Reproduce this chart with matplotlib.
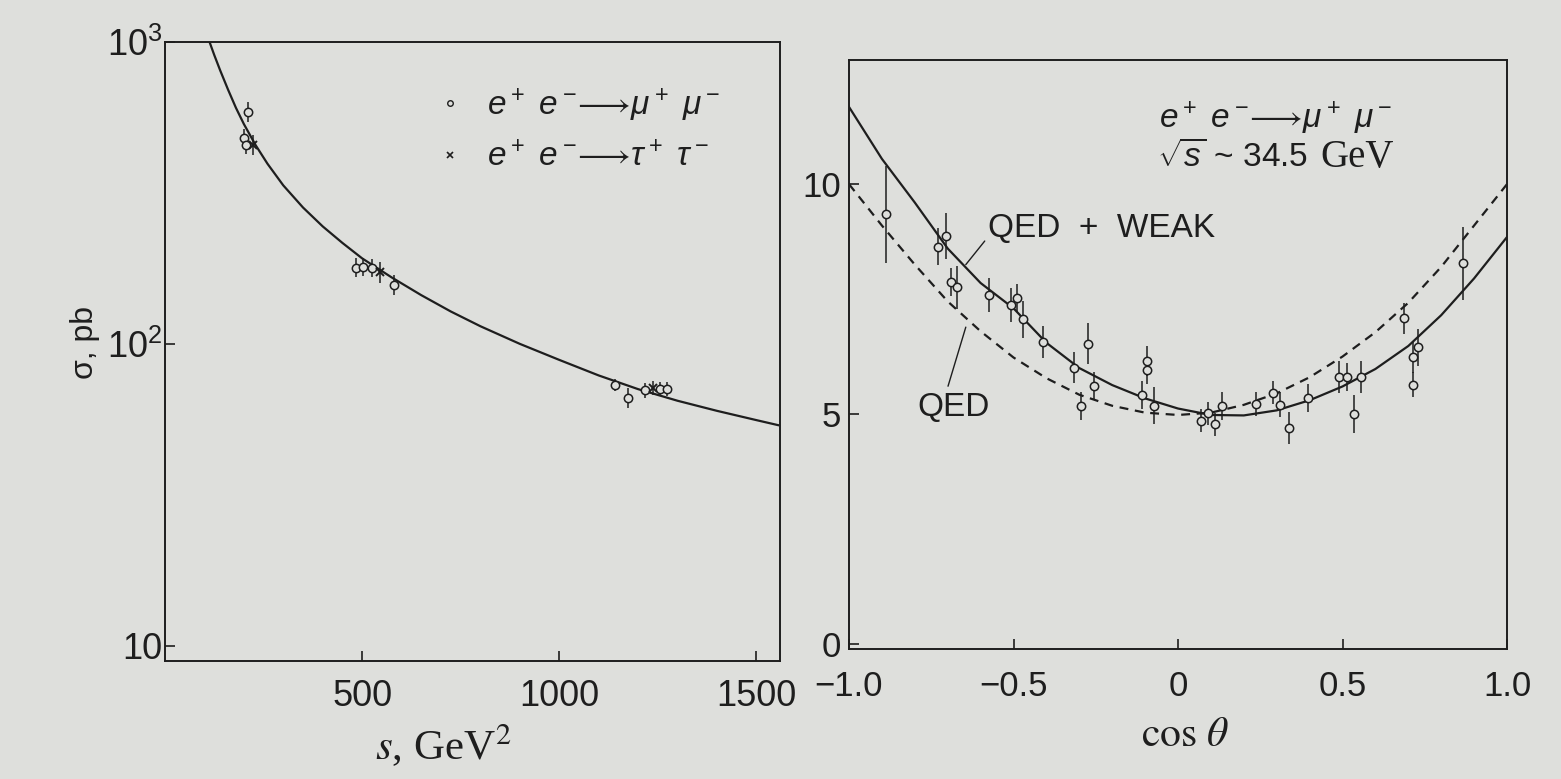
import matplotlib
matplotlib.use('Agg')
import matplotlib.pyplot as plt
from matplotlib.lines import Line2D
import numpy as np

matplotlib.rcParams['font.family'] = 'Liberation Sans'
matplotlib.rcParams['mathtext.fontset'] = 'custom'
matplotlib.rcParams['mathtext.rm'] = 'Liberation Sans'
matplotlib.rcParams['mathtext.it'] = 'Liberation Sans:italic'
matplotlib.rcParams['mathtext.bf'] = 'Liberation Sans:bold'
matplotlib.rcParams['axes.unicode_minus'] = True

# ---- left panel: total cross section vs s ----
# theory curve
s_curve = [113, 125, 140, 160, 180, 200, 230, 260, 300, 350, 400, 450, 500, 575,
           650, 725, 800, 900, 1000, 1100, 1200, 1300, 1400, 1500, 1555]
sig_curve = [1000, 905, 805, 695, 605, 535, 455, 395, 335, 283, 245, 216, 192, 166,
             145, 128, 114.4, 100, 88.5, 78.6, 70.8, 64.8, 60, 55.9, 53.8]

# e+e- -> mu+mu- (open circles)
s_mu = [210, 200, 205, 484, 502, 525, 580, 1142, 1174, 1218, 1255, 1273]
sig_mu = [588, 480, 455, 179, 180, 179, 157, 73.2, 66.4, 70.4, 71, 71]
err_mu = [45, 35, 30, 13, 12, 12, 12, 3.5, 5, 4, 4, 4]

# e+e- -> tau+tau- (crosses)
s_tau = [224, 545, 1238]
sig_tau = [456, 173, 71.5]
err_tau = [35, 14, 4]

left_yticks = [10, 100, 1000]
left_yticklabels = ['10', r'$10^2$', r'$10^3$']
left_xticks = [500, 1000, 1500]

# ---- right panel: angular distribution ----
cos_grid = [-1.0, -0.9, -0.8, -0.7, -0.6, -0.5, -0.4, -0.3, -0.2, -0.1, 0.0,
            0.1, 0.2, 0.3, 0.4, 0.5, 0.6, 0.7, 0.8, 0.9, 1.0]
qed_weak = [11.68, 10.55, 9.6, 8.6, 7.85, 7.3, 6.55, 6.0, 5.63, 5.34, 5.12,
            4.98, 4.97, 5.08, 5.3, 5.6, 5.98, 6.48, 7.15, 7.95, 8.85]
qed_only = [10.0, 9.1, 8.25, 7.45, 6.8, 6.23, 5.78, 5.42, 5.18, 5.03, 4.98,
            5.03, 5.2, 5.45, 5.8, 6.25, 6.78, 7.42, 8.2, 9.1, 10.0]

cos_pts = [-0.888, -0.73, -0.706, -0.69, -0.673, -0.573, -0.509, -0.49, -0.47,
           -0.41, -0.315, -0.275, -0.294, -0.255, -0.094, -0.094, -0.11, -0.073,
           0.069, 0.09, 0.112, 0.133, 0.236, 0.29, 0.309, 0.336, 0.394,
           0.49, 0.515, 0.556, 0.536, 0.688, 0.715, 0.73, 0.715, 0.865]
dsig_pts = [9.34, 8.64, 8.88, 7.87, 7.76, 7.59, 7.37, 7.52, 7.06,
            6.56, 6.01, 6.53, 5.18, 5.61, 6.15, 5.95, 5.42, 5.18,
            4.85, 5.02, 4.78, 5.18, 5.22, 5.46, 5.2, 4.7, 5.35,
            5.81, 5.81, 5.8, 5.0, 7.08, 6.23, 6.45, 5.64, 8.28]
dsig_err = [1.05, 0.4, 0.5, 0.3, 0.47, 0.37, 0.37, 0.3, 0.4,
            0.35, 0.33, 0.45, 0.3, 0.3, 0.33, 0.3, 0.3, 0.4,
            0.25, 0.25, 0.25, 0.3, 0.27, 0.25, 0.27, 0.35, 0.3,
            0.35, 0.3, 0.35, 0.42, 0.33, 0.33, 0.4, 0.27, 0.79]

right_xticks = [-1.0, -0.5, 0.0, 0.5, 1.0]
right_xticklabels = ['\u22121.0', '\u22120.5', '0', '0.5', '1.0']
right_yticks = [0, 5, 10]

BG = '#dedfdc'
INK = '#1e1e1e'

fig = plt.figure(figsize=(15.61, 7.79), dpi=100, facecolor=BG)
axL = fig.add_axes([165/1561, (779-661)/779, (780-165)/1561, (661-42)/779])
axR = fig.add_axes([849/1561, (779-649)/779, (1507-849)/1561, (649-60)/779])

for ax in [axL, axR]:
    ax.set_facecolor(BG)
    for sp in ax.spines.values():
        sp.set_linewidth(1.4)
        sp.set_color(INK)

# left
axL.plot(s_curve, sig_curve, color=INK, lw=1.6, zorder=2)
axL.errorbar(s_mu, sig_mu, yerr=err_mu, fmt='o', ms=6, mfc=BG, mec=INK, mew=1.1,
             ecolor=INK, elinewidth=1.1, capsize=0, zorder=3)
axL.errorbar(s_tau, sig_tau, yerr=err_tau, fmt='x', ms=5.5, mec=INK, mew=1.4,
             ecolor=INK, elinewidth=1.1, capsize=0, zorder=3)
axL.set_yscale('log')
axL.set_xlim(0, 1560)
axL.set_ylim(8.9, 1000)
axL.yaxis.set_minor_locator(matplotlib.ticker.NullLocator())
axL.set_yticks(left_yticks)
axL.set_yticklabels(left_yticklabels)
axL.set_xticks(left_xticks)
axL.tick_params(axis='both', direction='in', length=7, width=1.2, color=INK,
                labelsize=26, labelcolor=INK)
axL.tick_params(axis='x', pad=13)
axL.tick_params(axis='y', pad=2)

h_mu = Line2D([], [], marker='o', ls='none', ms=4, mfc=BG, mec=INK, mew=1.0)
h_tau = Line2D([], [], marker='x', ls='none', ms=4, mec=INK, mew=1.2)
axL.legend([h_mu, h_tau],
           [r'$e^+\ e^-\!\!\longrightarrow\!\mu^+\ \mu^-$',
            r'$e^+\ e^-\!\!\longrightarrow\!\tau^+\ \tau^-$'],
           loc='upper left', bbox_to_anchor=(0.42, 0.955), frameon=False,
           fontsize=24, handlelength=0.6, handletextpad=0.8, labelspacing=0.55,
           borderpad=0, labelcolor=INK)

axL.set_ylabel('\u03c3, pb', fontsize=23, color=INK)
axL.yaxis.set_label_coords(-0.13, 0.515)
axL.yaxis.label.set_va('center')
axL.set_xlabel(r'$s$, GeV$^2$', fontsize=31, fontfamily='Liberation Serif',
               math_fontfamily='stix', color=INK)
axL.xaxis.set_label_coords(0.452, -0.136)
axL.xaxis.label.set_va('center')

# right
axR.plot(cos_grid, qed_weak, color=INK, lw=1.6, zorder=2)
axR.plot(cos_grid, qed_only, color=INK, lw=1.6, ls=(0, (4, 3)), zorder=2)
axR.errorbar(cos_pts, dsig_pts, yerr=dsig_err, fmt='o', ms=6, mfc=BG, mec=INK,
             mew=1.1, ecolor=INK, elinewidth=1.1, capsize=0, zorder=3)
axR.set_xlim(-1.0, 1.0)
axR.set_ylim(-0.11, 12.7)
axR.set_xticks(right_xticks)
axR.set_xticklabels(right_xticklabels)
axR.set_yticks(right_yticks)
axR.tick_params(axis='both', direction='in', length=7, width=1.2, color=INK,
                labelsize=25, labelcolor=INK)
axR.tick_params(axis='x', pad=15)
axR.tick_params(axis='y', pad=6)

axR.text(0.649, 0.901, r'$e^+\ e^-\!\!\longrightarrow\!\mu^+\ \mu^-$',
         transform=axR.transAxes, fontsize=24, ha='center', va='center', color=INK)
axR.text(0.468, 0.834, r'$\sqrt{s}$ ~ 34.5', transform=axR.transAxes,
         fontsize=24, ha='left', va='center', color=INK)
axR.text(0.717, 0.834, 'GeV', transform=axR.transAxes, fontsize=28,
         fontfamily='Liberation Serif', ha='left', va='center', color=INK)

axR.annotate('QED  +  WEAK', xy=(-0.645, 8.25), xytext=(-0.579, 9.04),
             fontsize=24, ha='left', va='center', color=INK,
             arrowprops=dict(arrowstyle='-', color=INK, lw=1.0,
                             shrinkA=0, shrinkB=0, relpos=(0.0, 0.2)))
axR.annotate('QED', xy=(-0.645, 6.89), xytext=(-0.682, 5.15),
             fontsize=24, ha='center', va='center', color=INK,
             arrowprops=dict(arrowstyle='-', color=INK, lw=1.0,
                             shrinkA=2, shrinkB=0, relpos=(0.4, 1.0)))

axR.set_xlabel(r'$\cos\,\theta$', fontsize=30, math_fontfamily='stix', color=INK)
axR.xaxis.set_label_coords(0.511, -0.146)
axR.xaxis.label.set_va('center')

plt.savefig('out.png', dpi=100, facecolor=BG)
